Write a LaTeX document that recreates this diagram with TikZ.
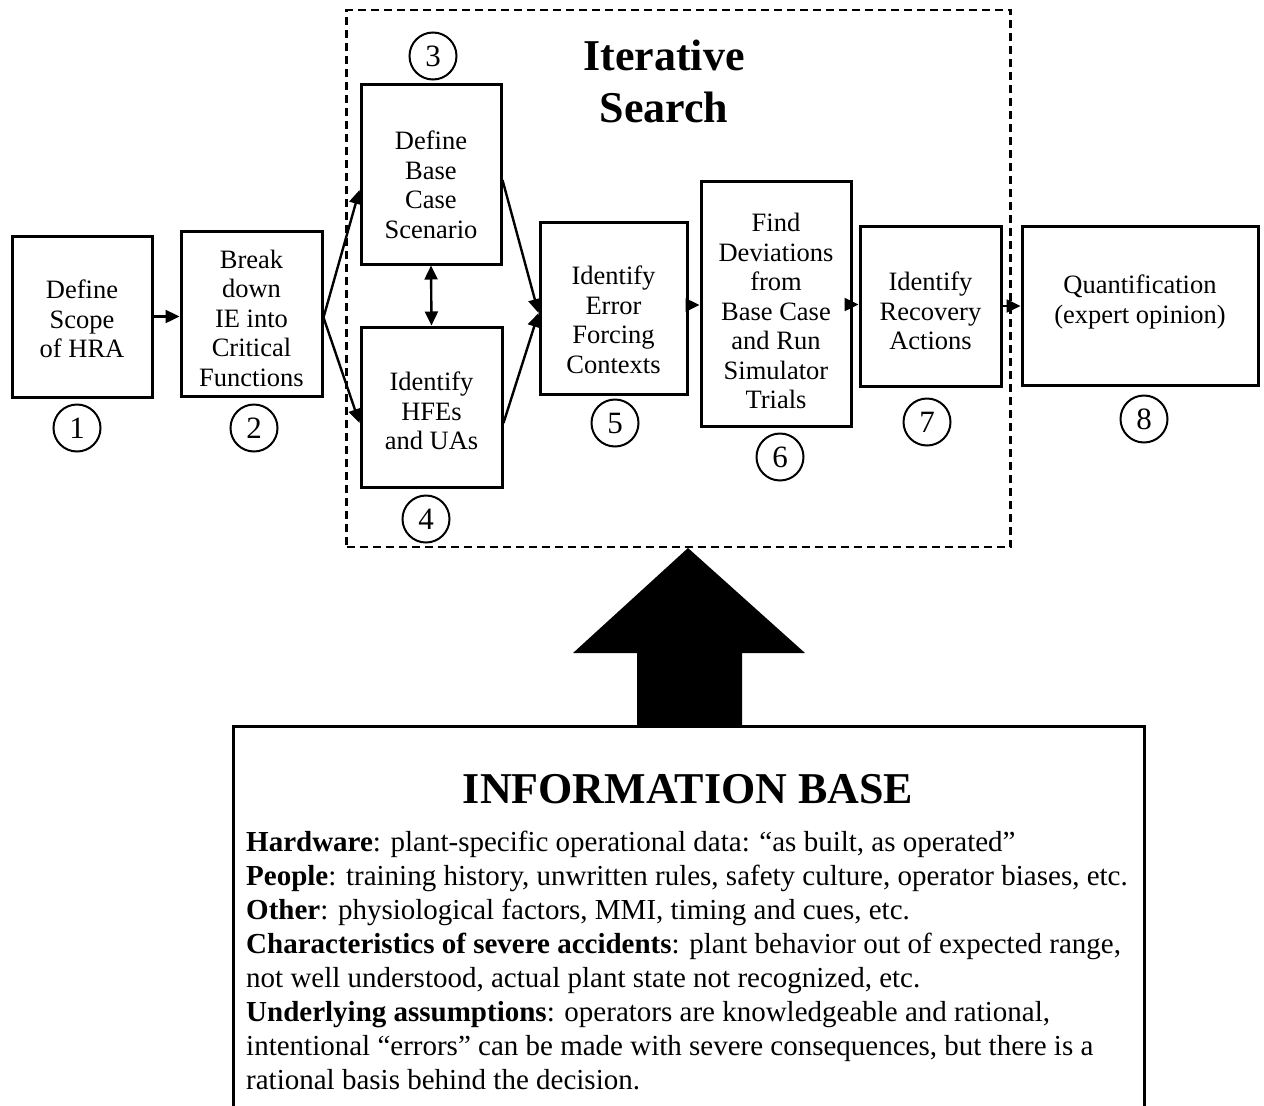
\documentclass[tikz,border=0pt]{standalone}
\usepackage{fontspec}
\setmainfont{Liberation Serif}
\usetikzlibrary{arrows.meta,calc}
\begin{document}
\begin{tikzpicture}[x=1pt,y=-1pt,
  stepbox/.style={draw,line width=3pt,inner sep=0pt},
  steptext/.style={align=center,inner sep=0pt,font=\fontsize{26.5}{29.5}\selectfont},
  num/.style={circle,draw,line width=2pt,minimum size=47pt,inner sep=0pt,font=\fontsize{31}{31}\selectfont},
  flow/.style={line width=2.4pt,-{Triangle[length=14pt,width=13pt]}},
  both/.style={line width=2.4pt,{Triangle[length=14pt,width=13pt]}-{Triangle[length=14pt,width=13pt]}},
]
\useasboundingbox[fill=white] (0,0) rectangle (1264,1106);

% iterative search region
\node[draw,dashed,line width=2.4pt,dash pattern=on 8pt off 5pt,minimum width=664pt,minimum height=537pt,inner sep=0pt] (search) at (678.5,278.5) {};
\node[anchor=base,align=center,inner sep=0pt,font=\fontsize{44}{52}\selectfont\bfseries] (title) at (664,122) {Iterative\\Search};

% process steps
\node[stepbox,minimum width=140pt,minimum height=161pt] (b1) at (82,316.5) {};
\node[stepbox,minimum width=141pt,minimum height=165pt] (b2) at (251.5,313.5) {};
\node[stepbox,minimum width=140pt,minimum height=180pt] (b3) at (431,174) {};
\node[stepbox,minimum width=141pt,minimum height=160pt] (b4) at (431.5,407) {};
\node[stepbox,minimum width=147pt,minimum height=172pt] (b5) at (613.5,308) {};
\node[stepbox,minimum width=150pt,minimum height=245pt] (b6) at (776,303.5) {};
\node[stepbox,minimum width=141pt,minimum height=160pt] (b7) at (930.5,306) {};
\node[stepbox,minimum width=236pt,minimum height=159pt] (b8) at (1140,305.5) {};

\node[steptext] (t1) at (82,319) {Define\\Scope\\of HRA};
\node[steptext] (t2) at (251.5,318) {Break\\down\\IE into\\Critical\\Functions};
\node[steptext] (t3) at (431,185) {Define\\Base\\Case\\Scenario};
\node[steptext] (t4) at (431.5,411) {Identify\\HFEs\\and UAs};
\node[steptext] (t5) at (613.5,320) {Identify\\Error\\Forcing\\Contexts};
\node[steptext] (t6) at (776,311) {Find\\Deviations\\from\\Base Case\\and Run\\Simulator\\Trials};
\node[steptext] (t7) at (930.5,311) {Identify\\Recovery\\Actions};
\node[steptext] (t8) at (1140,302) {Quantification\\(expert opinion)};

% step numbers
\node[num] (n1) at (77,428) {1};
\node[num] (n2) at (254,428) {2};
\node[num] (n3) at (433,56) {3};
\node[num] (n4) at (426,519) {4};
\node[num] (n5) at (615,423) {5};
\node[num] (n6) at (780,457) {6};
\node[num] (n7) at (927,422) {7};
\node[num] (n8) at (1144,419) {8};

% connectors
\draw[flow] (b1.east) -- (b1.east -| b2.west);
\draw[flow] ([yshift=-4pt]b2.east) -- ([yshift=-16pt]b3.west);
\draw[flow] ([yshift=-4pt]b2.east) -- ([yshift=-16pt]b4.west);
\draw[both] (b3.south) -- (b4.north);
\draw[flow] ([yshift=-6pt]b3.east) -- ([yshift=-5pt]b5.west);
\draw[flow] ([yshift=-16pt]b4.east) -- ([yshift=-5pt]b5.west);
\draw[flow] ([yshift=3pt]b5.east) -- ([yshift=3pt]b5.east -| b6.west);
\draw[flow] ([yshift=-1pt]b6.east) -- ([yshift=-1pt]b6.east -| b7.west);
\draw[flow] (b7.east) -- (b7.east -| b8.west);

% information base (continues below the frame)
\coordinate (ibl) at (233,726);
\coordinate (ibr) at (1144,726);
\draw[line width=3pt] (233,1120) -- (ibl) -- (ibr) -- (1144,1120);
\node[anchor=base,inner sep=0pt,font=\fontsize{44}{50}\selectfont\bfseries] (ibtitle) at (688,803) {INFORMATION BASE};
\node[anchor=base west,align=left,inner sep=0pt,font=\fontsize{29}{33.9}\selectfont] (ibtext) at (246,1089) {%
\textbf{Hardware}: plant-specific operational data: “as built, as operated”\\
\textbf{People}: training history, unwritten rules, safety culture, operator biases, etc.\\
\textbf{Other}: physiological factors, MMI, timing and cues, etc.\\
\textbf{Characteristics of severe accidents}: plant behavior out of expected range,\\
not well understood, actual plant state not recognized, etc.\\
\textbf{Underlying assumptions}: operators are knowledgeable and rational,\\
intentional “errors” can be made with severe consequences, but there is a\\
rational basis behind the decision.};

% big arrow from the information base up to the search region
\fill (637,726) -- (637,653) -- (573,653) -- (688,548) -- (805,653) -- (742,653) -- (742,726) -- cycle;
\end{tikzpicture}
\end{document}
